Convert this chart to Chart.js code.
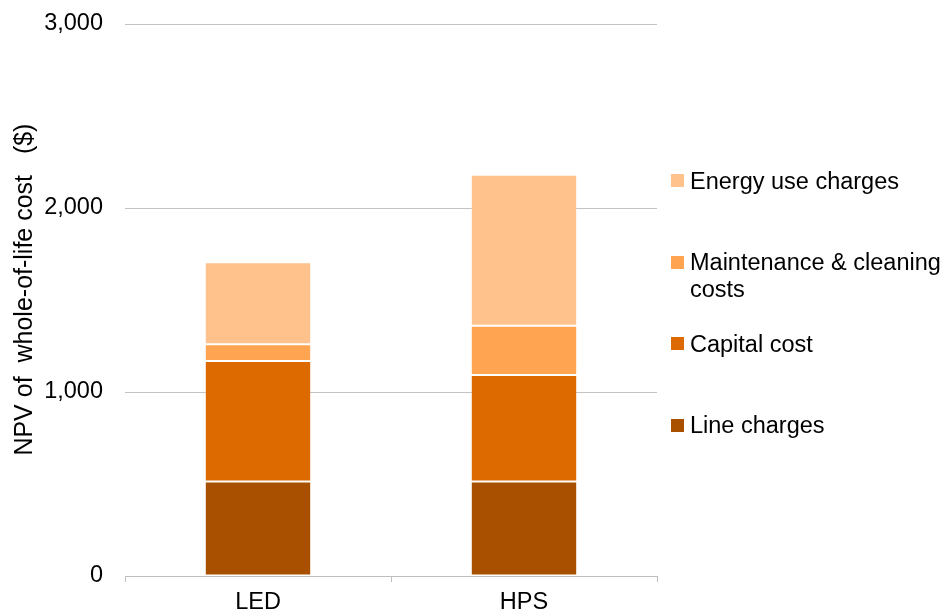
<!DOCTYPE html>
<html>
<head>
<meta charset="utf-8">
<script src="https://cdn.jsdelivr.net/npm/chart.js@4.4.1/dist/chart.umd.min.js"></script>
<style>
  html, body { margin: 0; padding: 0; background: #ffffff; }
  #wrap { position: relative; width: 947px; height: 613px; }
  #c { position: absolute; left: 0; top: 0; }
  #legend { position: absolute; left: 671px; top: 0; width: 276px; height: 613px;
            font-family: "Liberation Sans", Arial, sans-serif; font-size: 23.5px; color: #000; }
  .item { position: absolute; left: 0; display: flex; align-items: flex-start; }
  .sw { width: 13px; height: 13px; flex: 0 0 13px; margin-right: 6px; }
  .lab { line-height: 27px; width: 262px; margin-top: -13px; }
</style>
</head>
<body>
<div id="wrap">
  <canvas id="c" width="947" height="613"></canvas>
  <div id="legend"></div>
</div>
<script>
const categories = ["LED", "HPS"];
const seriesNames = ["Line charges", "Capital cost", "Maintenance & cleaning costs", "Energy use charges"];
const lineCharges = [513, 513];
const capitalCost = [655, 580];
const maintenanceCosts = [91, 267];
const energyUseCharges = [446, 821];
const yTicks = [0, 1000, 2000, 3000];
const colors = ["#A85000", "#DD6A00", "#FFA552", "#FFC28C"];

const seriesValues = [lineCharges, capitalCost, maintenanceCosts, energyUseCharges];
const FONT = '"Liberation Sans", Arial, sans-serif';

const chart = new Chart(document.getElementById('c'), {
  type: 'bar',
  data: {
    labels: categories,
    datasets: seriesNames.map((n, i) => ({
      label: n,
      data: seriesValues[i],
      backgroundColor: colors[i],
      borderColor: 'rgba(255,255,255,0.14)',
      borderWidth: 1,
      borderSkipped: false,
      categoryPercentage: 1.0,
      barPercentage: 0.4
    }))
  },
  options: {
    responsive: false,
    animation: false,
    devicePixelRatio: 1,
    layout: { padding: { top: 24, right: 290, bottom: 0, left: 0 } },
    plugins: { legend: { display: false }, tooltip: { enabled: false } },
    scales: {
      x: {
        stacked: true,
        offset: true,
        grid: { display: true, drawOnChartArea: false, drawTicks: true, tickLength: 6, color: '#bfbfbf', lineWidth: 1, offset: true },
        border: { display: true, color: '#bfbfbf', width: 1 },
        ticks: { color: '#000', font: { family: FONT, size: 23.5 }, padding: 6, maxRotation: 0 },
        afterFit: (s) => { s.height = 37; }
      },
      y: {
        stacked: true,
        min: 0,
        max: 3000,
        afterBuildTicks: (s) => { s.ticks = yTicks.map(v => ({ value: v })); },
        grid: { color: '#c3c3c3', lineWidth: 1, drawTicks: false },
        border: { display: false },
        ticks: {
          color: '#000',
          font: { family: FONT, size: 23.5 },
          padding: 22,
          callback: (v) => Number(v).toLocaleString('en-US')
        },
        title: {
          display: true,
          text: '   NPV of  whole-of-life cost   ($)',
          color: '#000',
          font: { family: FONT, size: 25 },
          padding: { top: 10, bottom: 0 }
        },
        afterFit: (s) => { s.width = 125; s.paddingTop = 0; s.paddingBottom = 0; }
      }
    }
  }
});

// HTML legend, top-to-bottom reverse of stacking order
const legend = document.getElementById('legend');
const order = [3, 2, 1, 0];
order.forEach((dsIndex, k) => {
  const centerY = 180.5 + k * 81.5;
  const item = document.createElement('div');
  item.className = 'item';
  item.style.top = centerY + 'px';
  const sw = document.createElement('div');
  sw.className = 'sw';
  sw.style.background = colors[dsIndex];
  sw.style.marginTop = '-6.5px';
  const lab = document.createElement('div');
  lab.className = 'lab';
  lab.textContent = seriesNames[dsIndex];
  item.appendChild(sw);
  item.appendChild(lab);
  legend.appendChild(item);
});
</script>
</body>
</html>
